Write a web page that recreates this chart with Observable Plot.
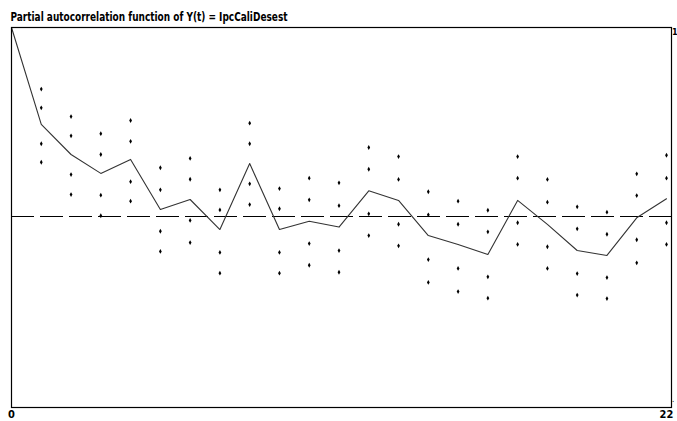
<!DOCTYPE html>
<html>
<head>
<meta charset="utf-8">
<script src="https://cdn.jsdelivr.net/npm/d3@7"></script>
<script src="https://cdn.jsdelivr.net/npm/@observablehq/plot@0.6"></script>
<style>
  html, body { margin: 0; padding: 0; background: #fff; }
  #chart svg { display: block; }
</style>
</head>
<body>
<div id="chart"></div>
<script>
const title = "Partial autocorrelation function of Y(t) = IpcCaliDesest";
const lags = [0,1,2,3,4,5,6,7,8,9,10,11,12,13,14,15,16,17,18,19,20,21,22];
const pacf = [1, 0.487, 0.328, 0.228, 0.302, 0.037, 0.090, -0.069, 0.280, -0.069, -0.025, -0.056, 0.136, 0.085, -0.101, -0.148, -0.201, 0.085, -0.042, -0.180, -0.206, -0.007, 0.094];
const bandLags = [1,2,3,4,5,6,7,8,9,10,11,12,13,14,15,16,17,18,19,20,21,22];
const upper2 = [0.674, 0.529, 0.438, 0.508, 0.258, 0.307, 0.141, 0.494, 0.148, 0.203, 0.178, 0.365, 0.317, 0.131, 0.081, 0.033, 0.317, 0.196, 0.051, 0.023, 0.226, 0.324];
const upper1 = [0.575, 0.427, 0.328, 0.398, 0.141, 0.197, 0.035, 0.385, 0.041, 0.088, 0.057, 0.250, 0.196, 0.009, -0.041, -0.081, 0.203, 0.076, -0.065, -0.094, 0.111, 0.203];
const lower1 = [0.385, 0.222, 0.113, 0.184, -0.078, -0.021, -0.190, 0.173, -0.190, -0.143, -0.180, 0.014, -0.041, -0.228, -0.275, -0.319, -0.033, -0.160, -0.302, -0.323, -0.123, -0.033];
const lower2 = [0.287, 0.116, 0.004, 0.081, -0.185, -0.138, -0.300, 0.063, -0.300, -0.258, -0.295, -0.101, -0.155, -0.349, -0.397, -0.432, -0.148, -0.275, -0.416, -0.434, -0.245, -0.148];
const xTicks = [0, 22];
const xTickLabels = ["0", "22"];
const yTopLabel = "1";
const yBottomLabel = ".";

const xMax = 22.168;
const yMin = -1.0106;
const font = "'Liberation Sans Narrow', 'DejaVu Sans Condensed', 'Liberation Sans', sans-serif";

const dotsData = [];
bandLags.forEach((l, i) => {
  dotsData.push({lag: l, v: upper2[i]}, {lag: l, v: upper1[i]}, {lag: l, v: lower1[i]}, {lag: l, v: lower2[i]});
});

const chart = Plot.plot({
  width: 677,
  height: 421,
  marginLeft: 11,
  marginRight: 6,
  marginTop: 27,
  marginBottom: 14,
  style: {fontFamily: font, background: "#fff", color: "#000"},
  x: {domain: [0, xMax], axis: null},
  y: {domain: [yMin, 1], axis: null},
  marks: [
    Plot.ruleY([0], {x1: 0, x2: xMax, stroke: "#000", strokeWidth: 1.2, strokeDasharray: "23,6"}),
    Plot.line(lags.map((l, i) => ({lag: l, v: pacf[i]})), {x: "lag", y: "v", stroke: "#333", strokeWidth: 1.1}),
    Plot.dot(dotsData, {x: "lag", y: "v", symbol: "diamond", r: 1.45, fill: "#000", stroke: "none"}),
    Plot.frame({stroke: "#000", strokeWidth: 1.2}),
    Plot.text(xTicks.map((t, i) => ({t, label: xTickLabels[i]})), {x: "t", y: yMin, text: "label", dy: 3, textAnchor: "middle", lineAnchor: "top", fontSize: 11, fontWeight: "bold", fill: "#000"}),
    Plot.text([yTopLabel], {x: xMax, y: 1, text: d => d, dx: 0.5, dy: 1, textAnchor: "start", lineAnchor: "top", fontSize: 9, fontWeight: "bold", fill: "#000"}),
    Plot.text([yBottomLabel], {x: xMax, y: yMin, text: d => d, dx: 0.5, dy: -6, textAnchor: "start", lineAnchor: "bottom", fontSize: 8, fill: "#000"}),
    Plot.text([title], {frameAnchor: "top-left", text: d => d, dx: -1, dy: -7, textAnchor: "start", lineAnchor: "bottom", fontSize: 12, fontWeight: "bold", fill: "#000", className: "title"})
  ]
});
document.getElementById("chart").appendChild(chart);
const t = chart.querySelector(".title text");
if (t) { t.setAttribute("textLength", "277"); t.setAttribute("lengthAdjust", "spacingAndGlyphs"); }
</script>
</body>
</html>
